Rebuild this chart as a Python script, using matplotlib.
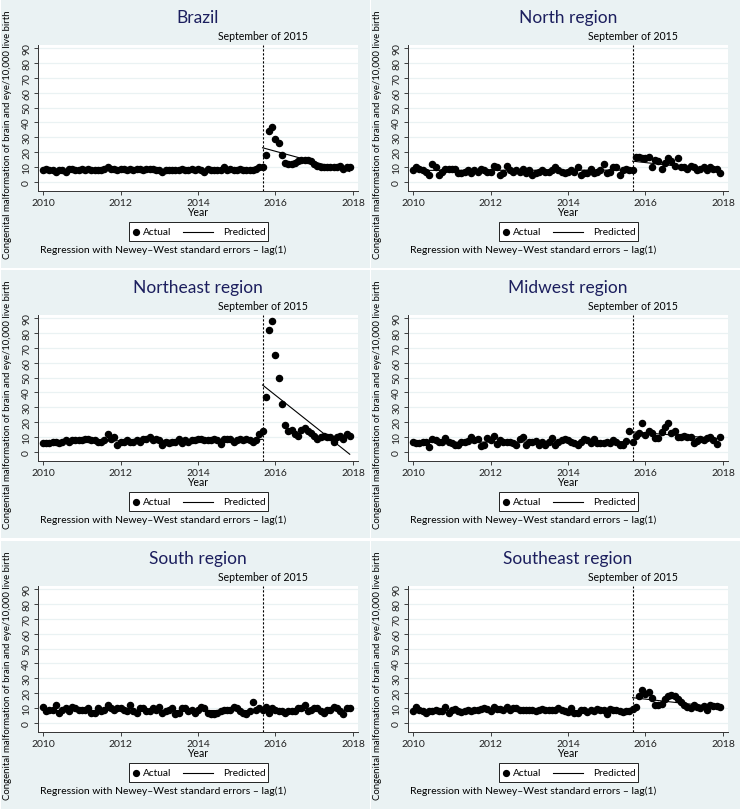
import numpy as np
import matplotlib
matplotlib.use('Agg')
import matplotlib.pyplot as plt
from matplotlib.lines import Line2D
from matplotlib.patches import Rectangle

plt.rcParams['font.family'] = ['Lato', 'DejaVu Sans']

# monthly rates, Jan 2010 - Dec 2017 (one row per year)
brazil = [8, 9, 8, 8, 7, 8, 8, 7, 9, 9, 8, 8,
          9, 8, 9, 8, 8, 8, 8, 9, 10, 9, 9, 8,
          9, 9, 8, 9, 8, 9, 9, 8, 9, 9, 9, 8,
          8, 7, 8, 8, 8, 8, 8, 9, 8, 8, 9, 8,
          9, 8, 7, 9, 8, 8, 8, 8, 10, 8, 9, 8,
          8, 9, 8, 8, 8, 8, 9, 10, 10, 18, 34, 37,
          29, 26, 18, 13, 12, 12, 13, 14, 15, 15, 15, 14,
          12, 11, 10, 10, 10, 10, 10, 10, 11, 9, 10, 10]
north = [8, 10, 9, 8, 7, 5, 12, 10, 5, 7, 9, 9,
         9, 9, 6, 6, 7, 8, 6, 8, 7, 9, 8, 7,
         7, 11, 10, 5, 6, 11, 8, 7, 8, 7, 9, 6,
         8, 5, 6, 7, 8, 7, 7, 8, 10, 8, 7, 6,
         7, 8, 7, 10, 5, 6, 6, 9, 6, 7, 8, 12,
         6, 7, 10, 10, 5, 8, 9, 8, 8, 17, 17, 16,
         16, 17, 10, 15, 14, 9, 13, 16, 14, 11, 16, 10,
         10, 9, 11, 10, 8, 9, 10, 8, 10, 9, 9, 6]
northeast = [6, 6, 6, 7, 7, 6, 7, 8, 7, 8, 8, 8,
             8, 9, 9, 8, 8, 7, 7, 8, 12, 9, 10, 5,
             7, 7, 8, 7, 7, 8, 7, 9, 9, 10, 8, 9,
             8, 5, 7, 6, 7, 7, 9, 6, 8, 7, 8, 8,
             9, 9, 8, 8, 8, 9, 8, 5.5, 9, 9, 9, 7,
             8, 9, 8, 9, 8, 7, 8, 12, 14, 37, 82, 88,
             65, 50, 32, 18, 14, 15, 12, 11, 15, 16, 14, 13,
             11, 9, 10, 11, 10, 10, 7, 10, 11, 9, 12, 11]
midwest = [6.5, 6, 6, 6.5, 7, 3.5, 9, 8, 7, 6.5, 9.5, 6.5,
           6, 5, 5, 6.5, 7, 7.5, 10, 8, 9, 4, 4.5, 9.5,
           8, 10.5, 5.5, 8, 7, 6.5, 7, 6, 5, 9, 10, 4.5,
           6.5, 7, 7.5, 5, 7, 4.5, 7, 9.5, 4.5, 7, 8, 9,
           8, 7, 6, 5, 7, 8.5, 8, 6, 9, 6, 6, 6,
           7, 6, 8, 7, 5, 4.5, 7.5, 14, 6.5, 11, 13, 19.5,
           11.5, 14, 13, 9.5, 9.5, 13.5, 16.5, 19.5, 13, 14, 10, 10,
           10.5, 10, 10, 6, 7.5, 8.5, 8, 9.5, 10, 8, 5.5, 10]
south = [11, 8, 9, 9, 12, 7, 9, 10, 8, 11, 10, 9,
         9, 9, 10, 7, 7, 10, 8, 9, 12, 10, 9, 10,
         10, 9, 8, 12, 8, 7, 10, 10, 8, 8, 10, 9,
         11, 7, 8, 9, 10, 6, 7, 10, 10, 8, 9, 7,
         9, 11, 10, 7, 6, 6, 7, 8, 9, 9, 9, 11,
         10, 8, 7, 6, 8, 14, 9, 10, 9, 11, 7, 10,
         9, 8, 8, 7, 8, 8, 8, 10, 10, 12, 8, 9,
         10, 10, 8, 7, 9, 9, 11, 10, 8, 6, 10, 10]
southeast = [8, 11, 9, 8, 6.5, 8, 8, 9, 8, 8, 10.5, 6.5,
             9, 9.5, 8, 7.5, 8, 8.5, 8, 8.5, 9, 9.5, 10, 9.5,
             8, 11, 9.5, 9.5, 9, 10.5, 9, 10, 10, 9, 9, 9,
             8.5, 9, 8, 9, 9.5, 9, 8.5, 8.5, 9, 10, 9, 8,
             7.5, 10, 7, 6.5, 8.5, 9, 7.5, 9, 8, 9.5, 8.5, 9,
             6, 9.5, 9, 8.5, 8, 7.5, 8, 8, 9.5, 11, 18, 22,
             19.5, 21, 17, 12, 12, 12.5, 16, 18, 19, 18, 16, 14,
             12, 11, 10, 12, 11, 10, 11.5, 9, 12, 11.5, 11.5, 11]

titles = ['Brazil', 'North region', 'Northeast region',
          'Midwest region', 'South region', 'Southeast region']
series = [brazil, north, northeast, midwest, south, southeast]

# fitted segments (start/end values) before and after Sep 2015
pre_start = [8.3, 7.8, 7.0, 6.5, 9.0, 8.5]
pre_end = [8.5, 8.0, 8.5, 7.0, 9.0, 8.5]
post_start = [23, 14, 45, 13.5, 9.0, 17]
post_end = [7, 7.5, -1.5, 9, 9.0, 10.5]

years = 2010 + np.arange(96) / 12
brk = 2015 + 8 / 12
last = years[-1]

W, H = 740, 812
fig = plt.figure(figsize=(W / 100, H / 100), dpi=100)
bg = '#EAF2F3'
navy = '#1c1f5e'

def fx(px):
    return px / W

def fy(py):
    return 1 - py / H

row_y = [0, 270, 541]
for k in range(6):
    c, r = k % 2, k // 2
    x0, y0 = c * 370, row_y[r]
    fig.patches.append(Rectangle((fx(x0 + 0.5), fy(y0 + 269)), 369 / W, 268.5 / H,
                                 transform=fig.transFigure, facecolor=bg,
                                 edgecolor='none', zorder=-5))
    ax = fig.add_axes([fx(x0 + 38), fy(y0 + 192), 320 / W, 146 / H])
    ax.set_zorder(1)
    ax.set_facecolor('white')
    ax.set_xlim(2009.87, 2018.13)
    ax.set_ylim(-6.04, 92)
    ax.set_yticks(range(0, 91, 10))
    ax.set_xticks([2010, 2012, 2014, 2016, 2018])
    ax.grid(axis='y', color=bg, lw=0.9)
    ax.set_axisbelow(True)
    for s in ['top', 'right']:
        ax.spines[s].set_visible(False)
    for s in ['left', 'bottom']:
        ax.spines[s].set_linewidth(0.7)
        ax.spines[s].set_color('#333333')
    ax.tick_params(labelsize=7.5, length=3, width=0.6, pad=2, colors='#222222')
    plt.setp(ax.get_yticklabels(), rotation=90, va='center')

    ax.plot(years, series[k], 'o', color='black', ms=4.4, zorder=3)
    ax.plot([years[0], brk], [pre_start[k], pre_end[k]], color='black', lw=0.8, zorder=2)
    ax.plot([brk, last], [post_start[k], post_end[k]], color='black', lw=0.8, zorder=2)
    ax.axvline(brk, color='black', lw=0.8, ls=(0, (2, 1.6)), zorder=2)
    ax.text(brk, 1.03, 'September of 2015', transform=ax.get_xaxis_transform(),
            ha='center', va='bottom', fontsize=7.6)

    fig.text(fx(x0 + 198), fy(y0 + 18), titles[k], ha='center', va='center',
             fontsize=12.5, color=navy)
    fig.text(fx(x0 + 198), fy(y0 + 212.5), 'Year', ha='center', va='center', fontsize=7.6)
    fig.text(fx(x0 + 8), fy(y0 + 135),
             'Congenital malformation of brain and eye/10,000 live birth',
             rotation=90, ha='center', va='center', fontsize=6.9)
    fig.text(fx(x0 + 40), fy(y0 + 250),
             'Regression with Newey\u2013West standard errors \u2013 lag(1)',
             ha='left', va='center', fontsize=7.5)

    # legend box drawn by hand
    fig.add_artist(Rectangle((fx(x0 + 129), fy(y0 + 242)), 139 / W, 19 / H,
                             transform=fig.transFigure, facecolor='white',
                             edgecolor='black', lw=0.6, zorder=2))
    ly = fy(y0 + 232.5)
    fig.add_artist(Line2D([fx(x0 + 135.5)], [ly], marker='o', color='black',
                          ms=4.2, transform=fig.transFigure, zorder=3))
    fig.text(fx(x0 + 143), ly, 'Actual', ha='left', va='center', fontsize=7.3, zorder=3)
    fig.add_artist(Line2D([fx(x0 + 183), fx(x0 + 213)], [ly, ly], color='black',
                          lw=0.8, transform=fig.transFigure, zorder=3))
    fig.text(fx(x0 + 223), ly, 'Predicted', ha='left', va='center', fontsize=7.3, zorder=3)

fig.savefig('out.png', dpi=100, facecolor='white')
